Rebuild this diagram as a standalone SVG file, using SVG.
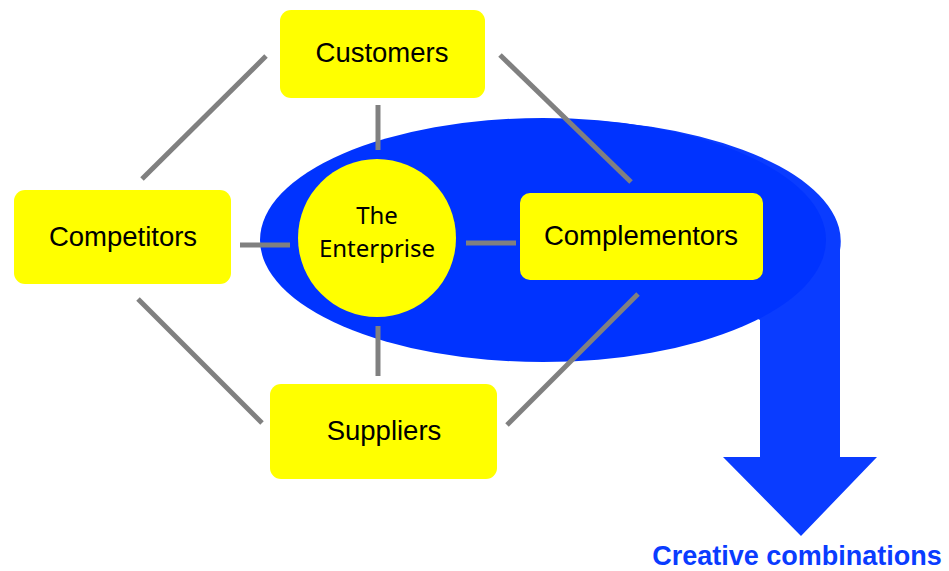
<svg xmlns="http://www.w3.org/2000/svg" width="949" height="571" viewBox="0 0 949 571">
<style>
.box{fill:#ffff00}
.lbl{font-family:"Liberation Sans",Arial,sans-serif;font-size:27.5px;fill:#000;text-anchor:middle}
.ent{font-family:"Noto Sans","Open Sans",sans-serif;font-size:24px;fill:#000;text-anchor:middle}
.con line{stroke:#808080;stroke-width:5}
</style>
<rect width="949" height="571" fill="#fff"/>
<g id="background">
<path d="M600,121 A290,122 0 0 1 840,250 L840,457 L877,457 L801,536 L723,457 L760,457 L760,320 L600,240 Z" fill="#0a3cff"/>
<ellipse cx="543" cy="240" rx="283" ry="122" fill="#0033ff"/>
<text x="797" y="565" font-family="Liberation Sans,Arial,sans-serif" font-size="27" font-weight="bold" fill="#0a3cff" text-anchor="middle">Creative combinations</text>
</g>
<g id="connectors" class="con">
<line x1="266" y1="56" x2="142" y2="179"/>
<line x1="378" y1="105" x2="378" y2="150"/>
<line x1="240" y1="245" x2="290" y2="245"/>
<line x1="466" y1="243" x2="516" y2="243"/>
<line x1="500" y1="55" x2="631" y2="182"/>
<line x1="638" y1="294" x2="507" y2="425"/>
<line x1="138" y1="299" x2="262" y2="423"/>
<line x1="378" y1="326" x2="378" y2="376"/>
</g>
<g id="customers">
<rect class="box" x="280" y="10" width="205" height="88" rx="11"/>
<text class="lbl" x="382" y="62">Customers</text>
</g>
<g id="competitors">
<rect class="box" x="14" y="190" width="217" height="94" rx="11"/>
<text class="lbl" x="123" y="246">Competitors</text>
</g>
<g id="complementors">
<rect class="box" x="520" y="193" width="243" height="87" rx="10"/>
<text class="lbl" x="641" y="245">Complementors</text>
</g>
<g id="suppliers">
<rect class="box" x="270" y="384" width="227" height="95" rx="11"/>
<text class="lbl" x="384" y="440">Suppliers</text>
</g>
<g id="enterprise">
<circle cx="377" cy="238" r="79" fill="#ffff00"/>
<text class="ent" x="377" y="224">The</text>
<text class="ent" x="377" y="257">Enterprise</text>
</g>
</svg>
